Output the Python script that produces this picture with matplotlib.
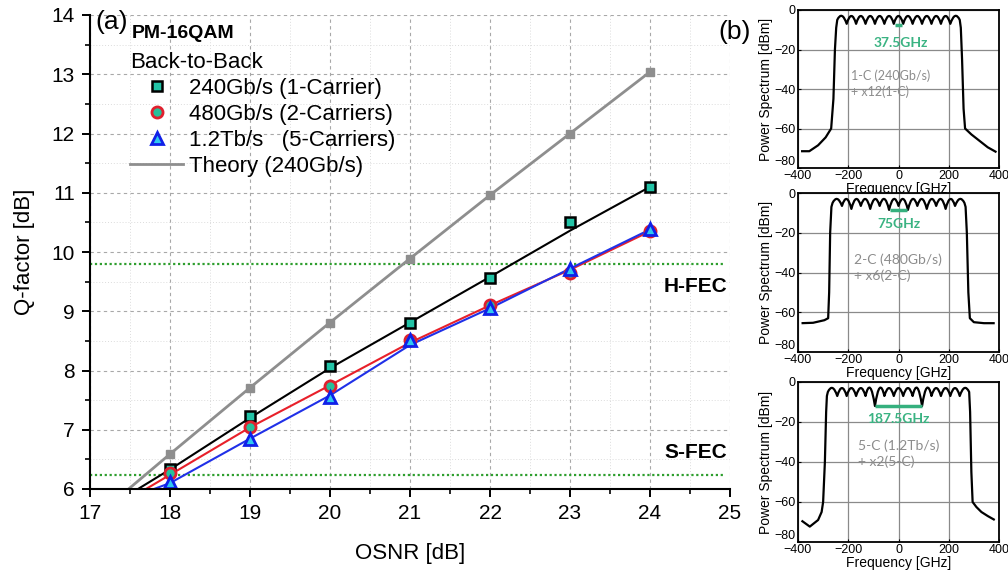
import matplotlib
matplotlib.use("Agg")
import matplotlib.pyplot as plt
from matplotlib.path import Path
from matplotlib.patches import PathPatch
from matplotlib.ticker import MultipleLocator

plt.rcParams['font.family'] = ['Liberation Sans', 'DejaVu Sans']

# ---------------- panel (a) data ----------------
osnr = [18, 19, 20, 21, 22, 23, 24]
q_1c = [6.33, 7.23, 8.07, 8.81, 9.56, 10.51, 11.09]
q_2c = [6.27, 7.05, 7.74, 8.52, 9.10, 9.65, 10.36]
q_5c = [6.12, 6.84, 7.55, 8.51, 9.05, 9.71, 10.38]
theory_osnr = [17, 18, 19, 20, 21, 22, 23, 24]
theory_q = [5.45, 6.59, 7.71, 8.81, 9.89, 10.96, 12.0, 13.04]
fit_1c_osnr = [17.6, 18, 19, 20, 21, 22, 23, 24]
fit_1c_q = [6.0, 6.33, 7.2, 8.04, 8.81, 9.58, 10.36, 11.1]
fit_2c_osnr = [17.7, 18, 19, 20, 21, 22, 23, 24]
fit_2c_q = [6.0, 6.24, 7.04, 7.75, 8.47, 9.1, 9.7, 10.35]
fit_5c_osnr = [17.8, 18, 19, 20, 21, 22, 23, 24]
fit_5c_q = [6.0, 6.1, 6.85, 7.58, 8.43, 9.05, 9.72, 10.38]
h_fec = 9.8
s_fec = 6.23
labels = ['240Gb/s (1-Carrier)', '480Gb/s (2-Carriers)', '1.2Tb/s   (5-Carriers)', 'Theory (240Gb/s)']

# ---------------- panel (b) spectra ----------------
p1_left_f = [-388, -355, -320, -290, -268, -259, -253, -248]
p1_left_p = [-71.5, -71.5, -68.5, -64.5, -60, -45, -20, -9]
p1_cusp_f = [-243.75, -206.25, -168.75, -131.25, -93.75, -56.25, -18.75,
             18.75, 56.25, 93.75, 131.25, 168.75, 206.25, 243.75]
p1_cusp_p = [-5, -7, -7, -7, -7, -7, -7, -7, -7, -7, -7, -7, -7, -5]
p1_peak_p = [-3, -3, -3, -3, -3, -3, -3, -3, -3, -3, -3, -3, -3]
p1_right_f = [248, 253, 259, 265, 290, 320, 355, 390]
p1_right_p = [-9, -25, -50, -60, -63, -66, -69.5, -72]

p2_left_f = [-386, -340, -295, -280, -276, -272, -267]
p2_left_p = [-65.5, -65.3, -64, -63, -50, -20, -7]
p2_cusp_f = [-262.5, -225, -187.5, -150, -112.5, -75, -37.5, 0,
             37.5, 75, 112.5, 150, 187.5, 225, 262.5]
p2_cusp_p = [-5, -6.5, -8, -6.5, -8, -6.5, -8.5, -6.5, -8.5, -6.5, -8, -6.5, -8, -6.5, -5]
p2_peak_p = [-3, -3, -3, -3, -3, -3, -3, -3, -3, -3, -3, -3, -3, -3]
p2_right_f = [267, 272, 278, 284, 300, 340, 383]
p2_right_p = [-7, -20, -50, -63, -65, -65.5, -65.5]

p3_left_f = [-386, -353, -320, -306, -300, -293, -288, -285]
p3_left_p = [-69.3, -72.3, -69, -65, -60, -40, -15, -7]
p3_cusp_f = [-281.25, -243.75, -206.25, -168.75, -131.25, -93.75, -56.25, -18.75,
             18.75, 56.25, 93.75, 131.25, 168.75, 206.25, 243.75, 281.25]
p3_cusp_p = [-5, -7, -7, -7, -7, -12, -7, -7, -7, -7, -12, -7, -7, -7, -7, -5]
p3_peak_p = [-3, -3, -3, -3, -3, -3, -3, -3, -3, -3, -3, -3, -3, -3, -3]
p3_right_f = [285, 290, 295, 310, 330, 355, 383]
p3_right_p = [-15, -45, -60, -62.5, -65, -67, -69]

spacing_labels = ['37.5GHz', '75GHz', '187.5GHz']
spacing_f = [(-12, 12), (-35, 35), (-93.75, 93.75)]
spacing_p = [-7.5, -8.5, -12]
config_labels = [('1-C (240Gb/s)', '+ x12(1-C)'),
                 ('2-C (480Gb/s)', '+ x6(2-C)'),
                 ('5-C (1.2Tb/s)', '+ x2(5-C)')]

W, H = 1008, 571
fig = plt.figure(figsize=(W / 100, H / 100), dpi=100)

def fx(px):
    return px / W

def fy(py):
    return 1 - py / H

# ---------------- main axes ----------------
ax = fig.add_axes([fx(90), fy(489), fx(730) - fx(90), fy(15) - fy(489)])
ax.set_xlim(17, 25)
ax.set_ylim(6, 14)
ax.xaxis.set_major_locator(MultipleLocator(1))
ax.xaxis.set_minor_locator(MultipleLocator(0.5))
ax.yaxis.set_major_locator(MultipleLocator(1))
ax.yaxis.set_minor_locator(MultipleLocator(0.5))
ax.grid(which='major', color='#a8a8a8', linestyle=(0, (3, 3)), linewidth=0.8)
ax.grid(which='minor', color='#dcdcdc', linestyle=(0, (1, 2)), linewidth=0.7)
ax.set_axisbelow(True)
for s in ['top', 'right']:
    ax.spines[s].set_visible(False)
for s in ['left', 'bottom']:
    ax.spines[s].set_linewidth(1.5)
ax.tick_params(which='major', direction='out', length=6, width=1.4, labelsize=15, pad=5)
ax.tick_params(which='minor', direction='out', length=3.5, width=1.2)

ax.axhline(h_fec, color='#2e9e2e', linestyle=(0, (1, 1.2)), linewidth=1.6, xmax=0.99)
ax.axhline(s_fec, color='#2e9e2e', linestyle=(0, (1, 1.2)), linewidth=1.6, xmax=0.99)

ax.plot(theory_osnr, theory_q, color='#8e8e8e', linewidth=2.0, label=labels[3])
ax.plot(theory_osnr, theory_q, linestyle='none', marker='s', markersize=6,
        color='#8e8e8e')
ax.plot(fit_1c_osnr, fit_1c_q, color='black', linewidth=1.5)
ax.plot(fit_2c_osnr, fit_2c_q, color='#e8202a', linewidth=1.5)
ax.plot(fit_5c_osnr, fit_5c_q, color='#2030e8', linewidth=1.5)
h1, = ax.plot(osnr, q_1c, linestyle='none', marker='s', markersize=7.5,
              markerfacecolor='#22c3a6', markeredgecolor='black', markeredgewidth=1.8,
              label=labels[0])
h2, = ax.plot(osnr, q_2c, linestyle='none', marker='o', markersize=8,
              markerfacecolor='#28bf9a', markeredgecolor='#e0202e', markeredgewidth=2.0,
              label=labels[1])
h3, = ax.plot(osnr, q_5c, linestyle='none', marker='^', markersize=9,
              markerfacecolor='#30c8f0', markeredgecolor='#1020e8', markeredgewidth=2.0,
              label=labels[2])

handles, labs = ax.get_legend_handles_labels()
order = [labs.index(l) for l in labels]
leg = ax.legend([handles[i] for i in order], [labs[i] for i in order],
                title='Back-to-Back', title_fontsize=16, fontsize=16,
                frameon=False, loc='upper left', alignment='left',
                bbox_to_anchor=(fx(130), fy(52)), bbox_transform=fig.transFigure,
                borderpad=0, borderaxespad=0, handlelength=2.4, handletextpad=0.25,
                labelspacing=0.22, numpoints=1)

ax.set_xlabel('OSNR [dB]', fontsize=16, labelpad=14)
ax.set_ylabel('Q-factor [dB]', fontsize=16, labelpad=12)

ax.text(24.97, 9.41, 'H-FEC', fontsize=15, fontweight='bold', ha='right', va='center')
ax.text(24.97, 6.62, 'S-FEC', fontsize=15, fontweight='bold', ha='right', va='center')

fig.text(fx(95), fy(29), '(a)', fontsize=19, va='baseline', ha='left')
fig.text(fx(132), fy(38), 'PM-16QAM', fontsize=14, fontweight='bold', va='baseline', ha='left')
fig.text(fx(718), fy(39), '(b)', fontsize=19, va='baseline', ha='left')

# ---------------- inset spectra ----------------
def spectrum_path(lf, lp, cf, cp, pk, rf, rp):
    verts = list(zip(lf, lp))
    codes = [Path.MOVETO] + [Path.LINETO] * (len(lf) - 1)
    verts.append((cf[0], cp[0]))
    codes.append(Path.LINETO)
    for i, peak in enumerate(pk):
        f0, f1 = cf[i], cf[i + 1]
        y0, y1 = cp[i], cp[i + 1]
        verts.append(((f0 + f1) / 2, 2 * peak - (y0 + y1) / 2))
        verts.append((f1, y1))
        codes += [Path.CURVE3, Path.CURVE3]
    verts += list(zip(rf, rp))
    codes += [Path.LINETO] * len(rf)
    return Path(verts, codes)

panels = [
    (10, 168, (p1_left_f, p1_left_p, p1_cusp_f, p1_cusp_p, p1_peak_p, p1_right_f, p1_right_p),
     (10, -16.5), (-190, -33.5), 9, 10),
    (193, 352, (p2_left_f, p2_left_p, p2_cusp_f, p2_cusp_p, p2_peak_p, p2_right_f, p2_right_p),
     (0, -15.5), (-178, -33.5), 10, 10),
    (382, 542, (p3_left_f, p3_left_p, p3_cusp_f, p3_cusp_p, p3_peak_p, p3_right_f, p3_right_p),
     (0, -18.5), (-160, -32), 10, 10),
]

for k, (top, bot, spec, gpos, tpos, tsize, gsize) in enumerate(panels):
    axi = fig.add_axes([fx(798), fy(bot), fx(999) - fx(798), fy(top) - fy(bot)])
    axi.set_xlim(-400, 400)
    axi.set_ylim(-80, 0)
    axi.set_xticks([-400, -200, 0, 200, 400])
    axi.set_yticks([-80, -60, -40, -20, 0])
    axi.grid(True, color='#8a8a8a', linewidth=0.9)
    axi.set_axisbelow(True)
    for s in axi.spines.values():
        s.set_linewidth(1.3)
    axi.tick_params(direction='in', length=2, labelsize=9, pad=1.5)
    axi.yaxis.get_major_ticks()[0].label1.set_verticalalignment('bottom')
    axi.set_ylabel('Power Spectrum [dBm]', fontsize=10, labelpad=1)
    axi.set_xlabel('Frequency [GHz]', fontsize=10, labelpad=0)
    axi.add_patch(PathPatch(spectrum_path(*spec), fill=False, edgecolor='black',
                            linewidth=1.6, joinstyle='round'))
    f0, f1 = spacing_f[k]
    axi.plot([f0, f1], [spacing_p[k], spacing_p[k]], color='#35b07e', linewidth=2.5,
             solid_capstyle='butt')
    axi.text(gpos[0], gpos[1], spacing_labels[k], color='#3ab382', fontsize=gsize,
             ha='center', va='center', family=['Lato', 'DejaVu Sans'], fontweight='bold')
    axi.text(tpos[0], tpos[1], config_labels[k][0], color='#8c8c8c', fontsize=tsize,
             ha='left', va='center', family=['Lato', 'DejaVu Sans'])
    axi.text(tpos[0], tpos[1] - 8, config_labels[k][1], color='#8c8c8c', fontsize=tsize,
             ha='left', va='center', family=['Lato', 'DejaVu Sans'])

fig.savefig('out.png', dpi=100, facecolor='white')
